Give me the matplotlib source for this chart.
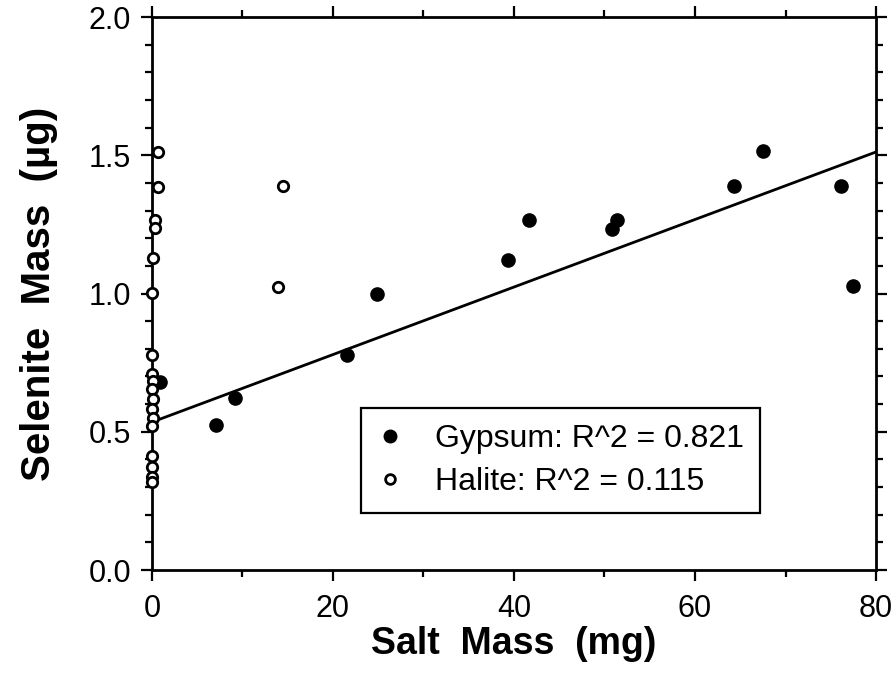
import matplotlib
matplotlib.use("Agg")
import matplotlib.pyplot as plt
from matplotlib.ticker import MultipleLocator
from matplotlib.lines import Line2D

plt.rcParams['font.family'] = ['Liberation Sans', 'DejaVu Sans']

# Gypsum (filled)
gyp_x = [0.9, 7.1, 9.2, 21.6, 24.9, 39.3, 41.7, 50.8, 51.4, 64.3, 67.5, 76.1, 77.5]
gyp_y = [0.68, 0.525, 0.622, 0.778, 0.998, 1.121, 1.266, 1.233, 1.266, 1.389, 1.515, 1.389, 1.027]

# Halite (open)
hal_x = [0.66, 0.66, 0.3, 0.3, 0.1, 0.0, 13.9, 14.5,
         0.0, 0.0, 0.1, 0.0, 0.1, 0.0, 0.1, 0.0, 0.0, 0.0, 0.0, 0.0]
hal_y = [1.512, 1.385, 1.266, 1.237, 1.128, 1.002, 1.024, 1.389,
         0.778, 0.709, 0.684, 0.655, 0.618, 0.582, 0.550, 0.521, 0.412, 0.373, 0.336, 0.318]

# Gypsum regression line endpoints
fit_x = [0, 80]
fit_y = [0.535, 1.512]

fig = plt.figure(figsize=(8.96, 6.73), dpi=100)
ax = fig.add_axes([0.1696, 0.153, 0.8081, 0.8217])

ax.plot(fit_x, fit_y, color='black', lw=2.0, zorder=2)
ax.plot(gyp_x, gyp_y, 'o', color='black', ms=9.5, zorder=3, clip_on=False)
ax.plot(hal_x, hal_y, 'o', mfc='white', mec='black', mew=2.0, ms=7.5, zorder=4, clip_on=False)

ax.set_xlim(0, 80)
ax.set_ylim(0, 2.0)
ax.xaxis.set_major_locator(MultipleLocator(20))
ax.xaxis.set_minor_locator(MultipleLocator(10))
ax.yaxis.set_major_locator(MultipleLocator(0.5))
ax.yaxis.set_minor_locator(MultipleLocator(0.1))
ax.yaxis.set_major_formatter(matplotlib.ticker.FormatStrFormatter('%.1f'))

for s in ax.spines.values():
    s.set_linewidth(2.0)
ax.tick_params(which='both', direction='out', top=True, right=True, width=1.6, colors='black')
ax.tick_params(which='major', length=8, labelsize=22, pad=7)
ax.tick_params(which='minor', length=5)
ax.tick_params(axis='x', labeltop=False, pad=9)
ax.tick_params(axis='y', labelright=False)

ax.set_xlabel('Salt  Mass  (mg)', fontsize=27, fontweight='bold', labelpad=2)
ax.set_ylabel('Selenite  Mass  (µg)', fontsize=29, fontweight='bold', labelpad=22)

handles = [
    Line2D([], [], ls='none', marker='o', color='black', ms=9),
    Line2D([], [], ls='none', marker='o', mfc='white', mec='black', mew=2.0, ms=7),
]
leg = ax.legend(handles, ['Gypsum: R^2 = 0.821', 'Halite: R^2 = 0.115'],
                loc='upper left', bbox_to_anchor=(0.289, 0.293),
                fontsize=23, frameon=True, fancybox=False, shadow=False,
                borderpad=0.5, handlelength=0.8, handletextpad=1.0,
                labelspacing=0.4, borderaxespad=0)
leg.get_frame().set_edgecolor('black')
leg.get_frame().set_linewidth(1.6)
leg.get_frame().set_alpha(1)

fig.savefig('out.png', dpi=100)
